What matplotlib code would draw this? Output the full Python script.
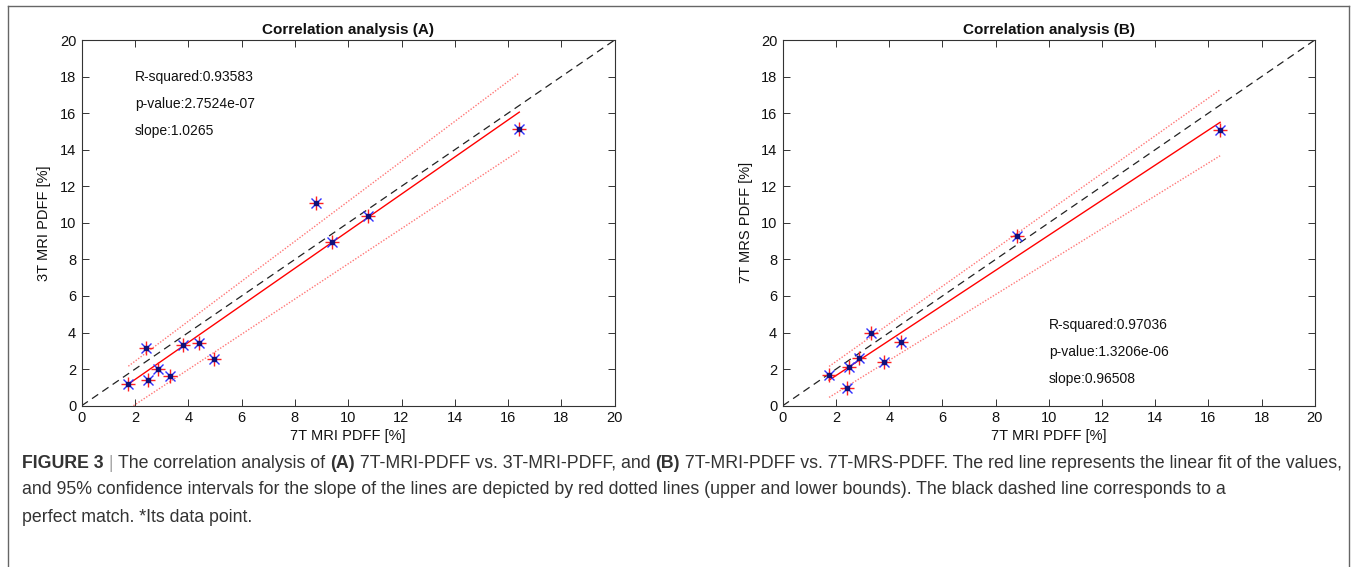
import numpy as np
import matplotlib
matplotlib.use("Agg")
import matplotlib.pyplot as plt
from matplotlib.lines import Line2D

plt.rcParams['font.family'] = ['Liberation Sans', 'DejaVu Sans']

# panel A: 7T MRI vs 3T MRI
a_x = [1.75, 2.41, 2.49, 2.87, 3.30, 3.81, 4.41, 4.95, 8.79, 9.40, 10.74, 16.42]
a_y = [1.18, 3.16, 1.40, 2.00, 1.60, 3.31, 3.42, 2.58, 11.09, 8.94, 10.35, 15.15]
# (slope, intercept) of fit and dotted bounds
a_fit = (1.014, -0.595)
a_up = (1.093, 0.247)
a_lo = (0.963, -1.87)
a_txt = ["R-squared:0.93583", "p-value:2.7524e-07", "slope:1.0265"]
a_txt_pos = [(2.0, 18.0), (2.0, 16.5), (2.0, 15.05)]

# panel B: 7T MRI vs 7T MRS
b_x = [1.74, 2.42, 2.49, 2.88, 3.33, 3.80, 4.43, 8.79, 16.44]
b_y = [1.66, 0.98, 2.11, 2.62, 3.97, 2.38, 3.49, 9.27, 15.10]
b_fit = (0.959, -0.269)
b_up = (1.029, 0.359)
b_lo = (0.899, -1.11)
b_txt = ["R-squared:0.97036", "p-value:1.3206e-06", "slope:0.96508"]
b_txt_pos = [(10.0, 4.4), (10.0, 2.93), (10.0, 1.47)]

ticks = list(range(0, 21, 2))

W, H = 1357, 567
fig = plt.figure(figsize=(W / 100, H / 100), dpi=100)

ax_color = '#333333'


def panel(rect, xs, ys, fit, up, lo, txts, pos, title, ylabel):
    ax = fig.add_axes(rect)
    ax.plot([0, 20], [0, 20], color='#222222', lw=0.9, dashes=(6, 4))
    xr = np.array([min(xs), max(xs)])
    ax.plot(xr, fit[0] * xr + fit[1], color='red', lw=1.0)
    for s, b in (up, lo):
        ax.plot(xr, s * xr + b, color='#ff4a4a', lw=1.0, linestyle=(0, (1, 1.2)), alpha=0.75)
    ax.plot(xs, ys, linestyle='none', marker='x', color='#3030ff', ms=7, mew=1.0)
    ax.plot(xs, ys, linestyle='none', marker='+', color='#ff2020', ms=9.5, mew=1.0)
    ax.plot(xs, ys, linestyle='none', marker='s', color='#10107a', ms=2.2)
    for t, (px, py) in zip(txts, pos):
        ax.text(px, py, t, fontsize=10, va='center', ha='left', color='#111111')
    ax.set_xlim(0, 20)
    ax.set_ylim(0, 20)
    ax.set_xticks(ticks)
    ax.set_yticks(ticks)
    ax.tick_params(direction='in', top=True, right=True, length=5, width=0.7,
                   labelsize=10.5, colors=ax_color, labelcolor='#111111', pad=4)
    for sp in ax.spines.values():
        sp.set_color(ax_color)
        sp.set_linewidth(0.8)
    ax.set_title(title, fontsize=11, fontweight='bold', pad=4, color='#111111')
    ax.set_xlabel('7T MRI PDFF [%]', fontsize=10.5, labelpad=3, color='#111111')
    ax.set_ylabel(ylabel, fontsize=10.5, labelpad=6, color='#111111')
    return ax


panel([81.7 / W, 1 - 405.7 / H, 533 / W, 365.7 / H], a_x, a_y, a_fit, a_up, a_lo,
      a_txt, a_txt_pos, 'Correlation analysis (A)', '3T MRI PDFF [%]')
panel([782.8 / W, 1 - 405.7 / H, 532 / W, 365.7 / H], b_x, b_y, b_fit, b_up, b_lo,
      b_txt, b_txt_pos, 'Correlation analysis (B)', '7T MRS PDFF [%]')

# frame around the figure
for xs_, ys_ in (([8, 8], [H, 6]), ([8, 1349], [6, 6]), ([1349, 1349], [6, H])):
    fig.add_artist(Line2D([v / W for v in xs_], [1 - v / H for v in ys_],
                          color='#666666', lw=1.0, transform=fig.transFigure))

# caption
cap_lines = [
    [("FIGURE 3", 'bold'), (" | ", 'normal'), ("The correlation analysis of ", 'normal'), ("(A)", 'bold'),
     (" 7T-MRI-PDFF vs. 3T-MRI-PDFF, and ", 'normal'), ("(B)", 'bold'),
     (" 7T-MRI-PDFF vs. 7T-MRS-PDFF. The red line represents the linear fit of the values,", 'normal')],
    [("and 95% confidence intervals for the slope of the lines are depicted by red dotted lines "
      "(upper and lower bounds). The black dashed line corresponds to a", 'normal')],
    [("perfect match. *Its data point.", 'normal')],
]
cap_y = [463, 490, 517]
cap_family = ['Liberation Sans', 'DejaVu Sans']
renderer = fig.canvas.get_renderer()


def run_width(txt, weight, size):
    t = fig.text(0, 0, "a" + txt + "a", fontsize=size, fontweight=weight, family=cap_family)
    w = t.get_window_extent(renderer).width
    t.remove()
    t = fig.text(0, 0, "aa", fontsize=size, fontweight=weight, family=cap_family)
    w2 = t.get_window_extent(renderer).width
    t.remove()
    return w - w2


base = 12.0
total = sum(run_width(t, wgt, base) for t, wgt in cap_lines[0])
size = base * 1323 / total

for runs, yy in zip(cap_lines, cap_y):
    x = 22.0
    for txt, wgt in runs:
        col = '#aaaaaa' if txt.strip() == '|' else '#333333'
        fig.text(x / W, 1 - yy / H, txt, fontsize=size, fontweight=wgt, family=cap_family,
                 va='center', ha='left', color=col)
        x += run_width(txt, wgt, size)

fig.savefig('out.png', dpi=100)
